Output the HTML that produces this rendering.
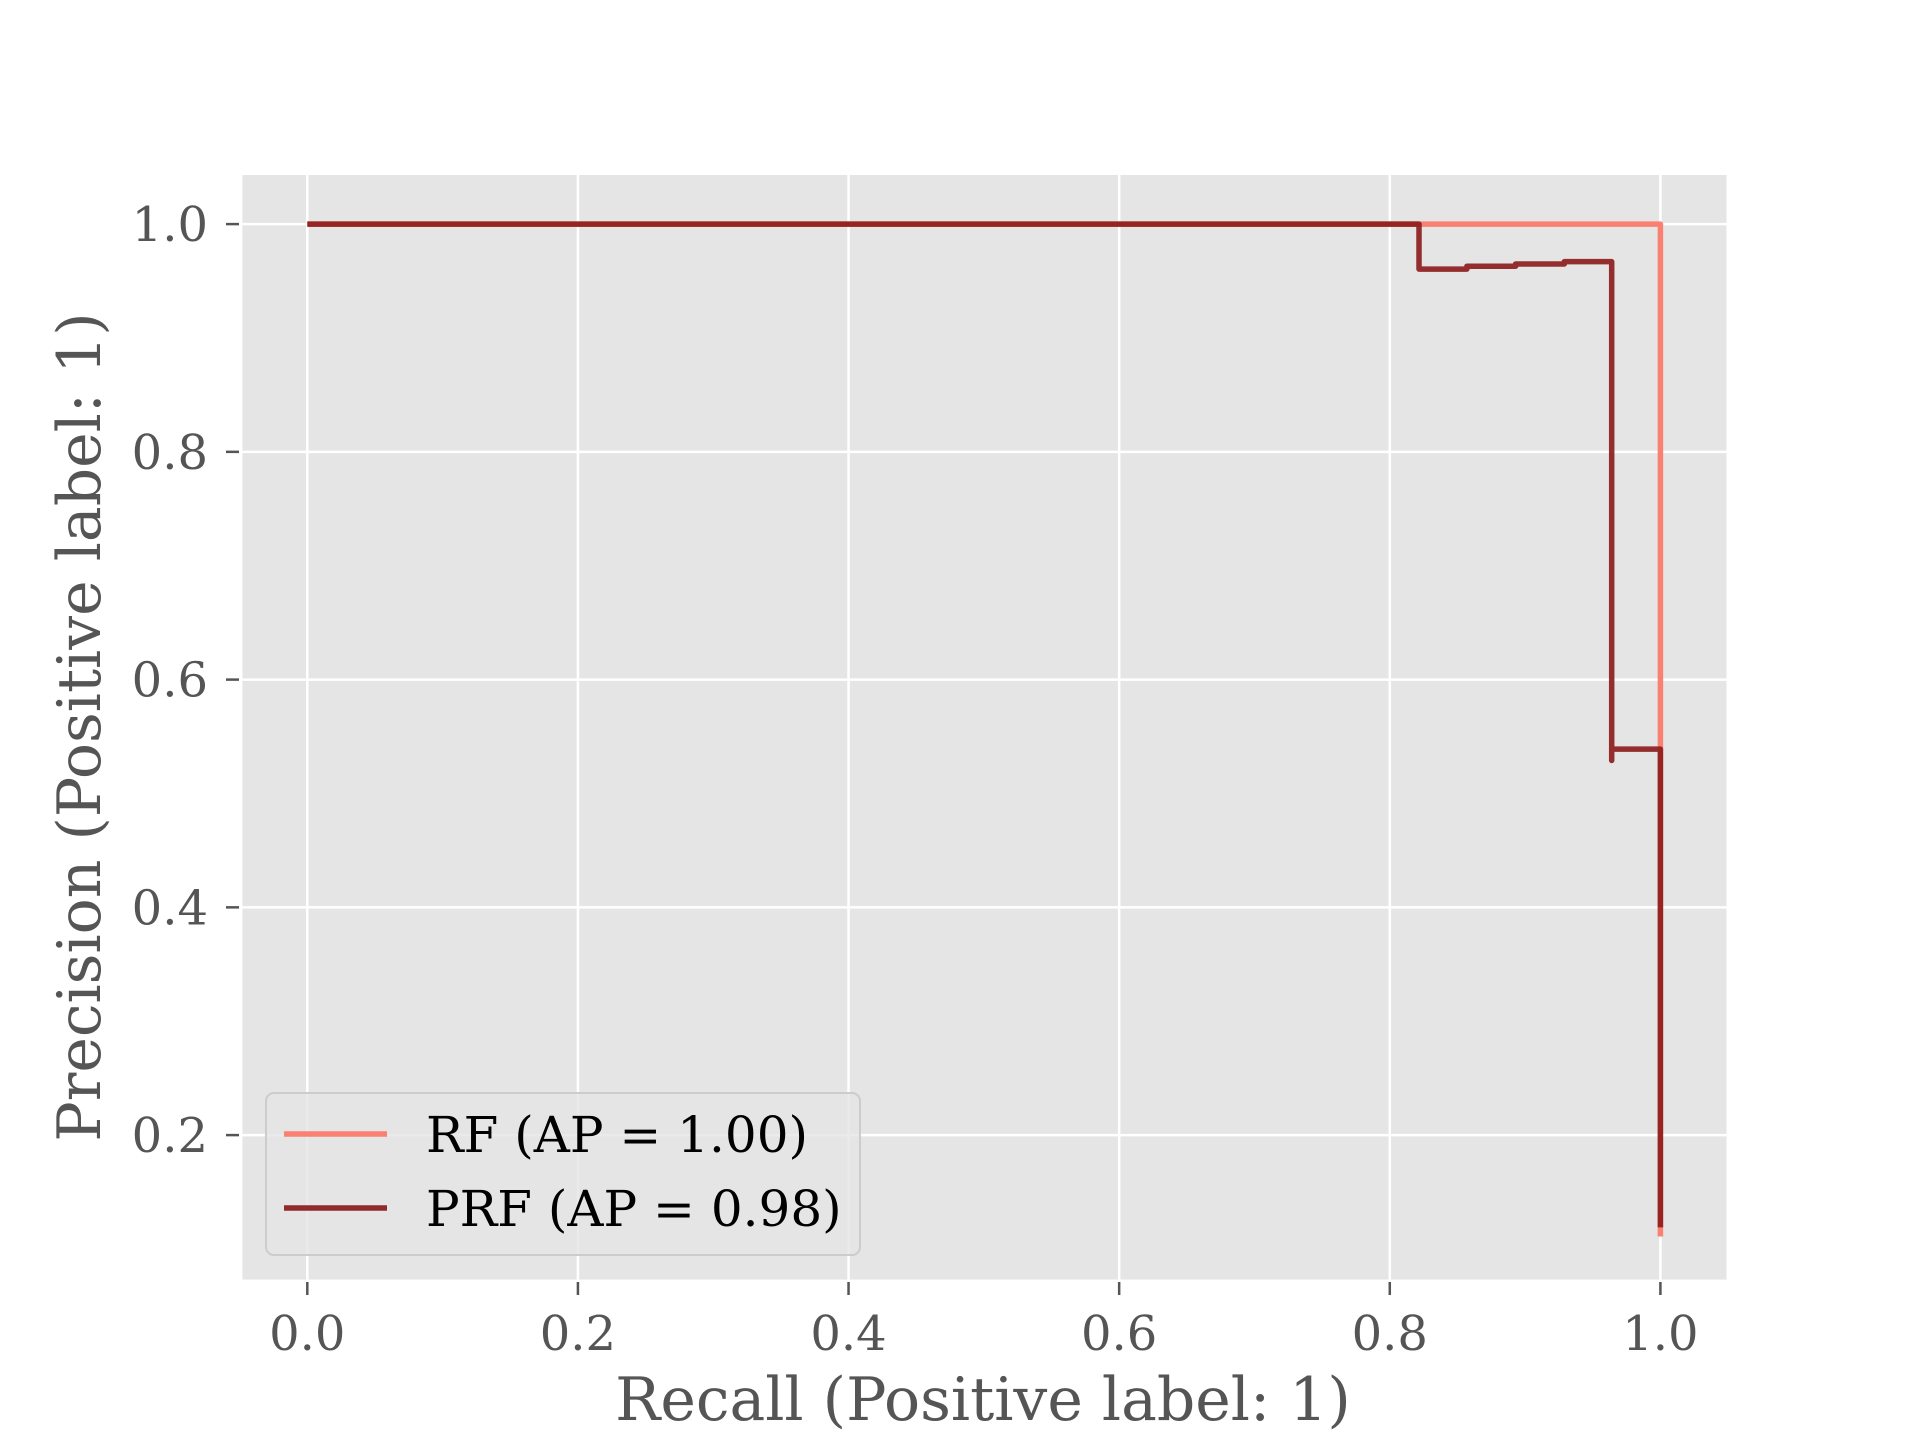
<!DOCTYPE html>
<html><head><meta charset="utf-8"><style>
html,body{margin:0;padding:0;background:#fff;}
svg text{font-family:"DejaVu Serif","Liberation Serif",serif;}
</style></head><body>
<svg id="chart" width="1920" height="1440" viewBox="0 0 1920 1440" xmlns="http://www.w3.org/2000/svg">
<rect x="0" y="0" width="1920" height="1440" fill="#ffffff"/>
<rect x="242.4" y="175" width="1484.1" height="1104.6" fill="#e5e5e5"/>
<g id="grid"></g>
<g id="ticks"></g>
<g id="series"></g>
<g>
<rect x="266" y="1093" width="594" height="162" rx="8" fill="#e5e5e5" fill-opacity="0.8" stroke="#cccccc" stroke-width="2"/>
<line x1="284" y1="1134" x2="387" y2="1134" stroke="#fa8072" stroke-width="5.5"/>
<text x="426" y="1152" font-size="50" fill="#000">RF (AP = 1.00)</text>
<line x1="284" y1="1208" x2="387" y2="1208" stroke="#912a2a" stroke-width="5.5"/>
<text x="426" y="1226" font-size="50" fill="#000">PRF (AP = 0.98)</text>
</g>
<text x="983" y="1420" font-size="60" fill="#555" text-anchor="middle">Recall (Positive label: 1)</text>
<text transform="translate(100,727) rotate(-90)" font-size="60" fill="#555" text-anchor="middle">Precision (Positive label: 1)</text>
</svg>
<script>
const xTicks = [0.0, 0.2, 0.4, 0.6, 0.8, 1.0];
const yTicks = [0.2, 0.4, 0.6, 0.8, 1.0];
const xTickLabels = ["0.0", "0.2", "0.4", "0.6", "0.8", "1.0"];
const yTickLabels = ["0.2", "0.4", "0.6", "0.8", "1.0"];
const rfRecall = [0, 1.0, 1.0];
const rfPrecision = [1.0, 1.0, 0.111];
const prfRecall = [0, 0.8216, 0.857, 0.893, 0.929, 0.964, 0.964, 1.0];
const prfPrecision = [1.0, 0.9605, 0.963, 0.965, 0.967, 0.529, 0.539, 0.119];

const NS = "http://www.w3.org/2000/svg";
const X0 = 307.3, X1 = 1660.4, Y1 = 224.1, PY = 1138.75;
function sx(v){ return X0 + v * (X1 - X0); }
function sy(v){ return Y1 + (1 - v) * PY; }
function mk(tag, attrs, parent){
  const e = document.createElementNS(NS, tag);
  for (const k in attrs) e.setAttribute(k, attrs[k]);
  parent.appendChild(e);
  return e;
}
const grid = document.getElementById('grid');
const ticks = document.getElementById('ticks');
const series = document.getElementById('series');
xTicks.forEach((v, i) => {
  const g = mk('line', {x1: sx(v), x2: sx(v), y1: 175, y2: 1279.6, stroke: '#fff', 'stroke-width': 2.5}, grid);
  
  
  const t = mk('line', {x1: sx(v), x2: sx(v), y1: 1282, y2: 1295, stroke: '#555', 'stroke-width': 2.5}, ticks);
  
  
  const l = mk('text', {x: sx(v), y: 1350, 'font-size': 48, fill: '#555', 'text-anchor': 'middle'}, ticks);
  l.textContent = xTickLabels[i];
  
  
});
yTicks.forEach((v, i) => {
  const g = mk('line', {x1: 242.4, x2: 1726.5, y1: sy(v), y2: sy(v), stroke: '#fff', 'stroke-width': 2.5}, grid);
  
  
  const t = mk('line', {x1: 226, x2: 239, y1: sy(v), y2: sy(v), stroke: '#555', 'stroke-width': 2.5}, ticks);
  
  
  const l = mk('text', {x: 208, y: sy(v) + 17, 'font-size': 48, fill: '#555', 'text-anchor': 'end'}, ticks);
  l.textContent = yTickLabels[i];
  
  
});
function stepPath(rs, ps){
  let d = 'M' + sx(rs[0]) + ' ' + sy(ps[0]);
  for (let i = 1; i < rs.length; i++){
    d += ' L' + sx(rs[i]) + ' ' + sy(ps[i-1]);
    d += ' L' + sx(rs[i]) + ' ' + sy(ps[i]);
  }
  return d;
}
const rf = mk('path', {d: stepPath(rfRecall, rfPrecision), fill: 'none', stroke: '#fa8072', 'stroke-width': 5.5, 'stroke-linejoin': 'round'}, series);


const prf = mk('path', {d: stepPath(prfRecall, prfPrecision), fill: 'none', stroke: '#8b1a1a', 'stroke-opacity': 0.9, 'stroke-width': 5.5, 'stroke-linejoin': 'round'}, series);


</script>
</body></html>
